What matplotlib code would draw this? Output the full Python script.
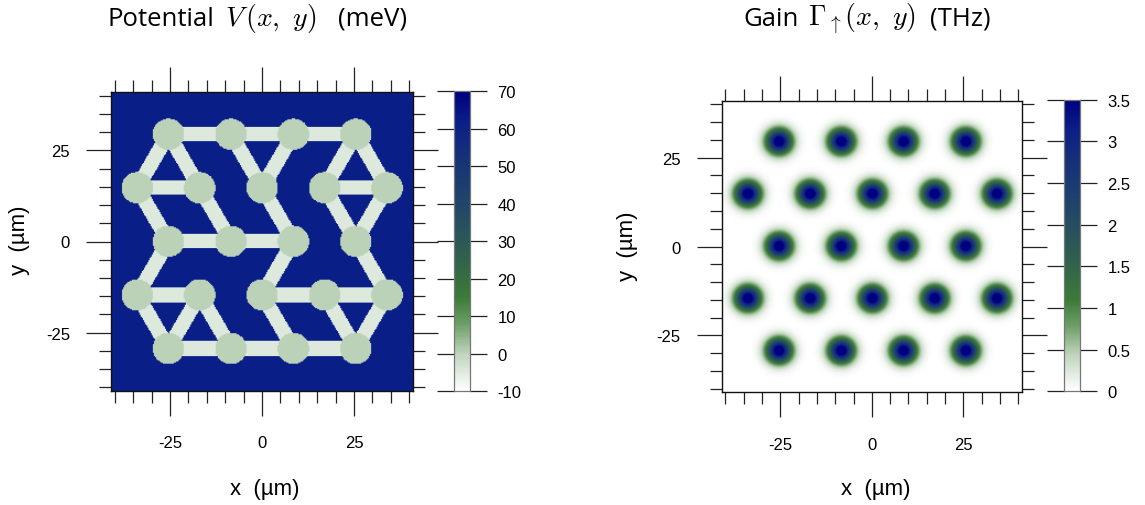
import numpy as np
import matplotlib
matplotlib.use("Agg")
import matplotlib.pyplot as plt
from matplotlib.colors import LinearSegmentedColormap
from matplotlib.ticker import FixedLocator

# ---------------- data ----------------
# triangular lattice sites (um)
site_x = [-25.5, -8.5, 8.5, 25.5,
          -34.0, -17.0, 0.0, 17.0, 34.0,
          -25.5, -8.5, 8.5, 25.5,
          -34.0, -17.0, 0.0, 17.0, 34.0,
          -25.5, -8.5, 8.5, 25.5]
site_y = [29.44, 29.44, 29.44, 29.44,
          14.72, 14.72, 14.72, 14.72, 14.72,
          0.0, 0.0, 0.0, 0.0,
          -14.72, -14.72, -14.72, -14.72, -14.72,
          -29.44, -29.44, -29.44, -29.44]
# channels connecting sites (pairs of site indices)
bonds = [(0, 1), (1, 2), (2, 3),
         (0, 4), (0, 5), (4, 5),
         (1, 6), (2, 6),
         (3, 7), (3, 8), (7, 8),
         (4, 9), (5, 10), (6, 11), (7, 12), (8, 12),
         (9, 10), (10, 11),
         (9, 13), (11, 15), (12, 17),
         (13, 14), (15, 16), (16, 17),
         (13, 18), (14, 18), (14, 19), (15, 20), (16, 21), (17, 21),
         (18, 19), (19, 20), (20, 21)]
pillar_radius = 4.3      # um
channel_halfwidth = 2.0  # um
V_background = 62.0      # meV
V_pillar = 0.0           # meV
V_channel = -5.0         # meV
gain_peak = 4.0          # THz
gain_sigma = 2.3         # um

v_ticks = [-10, 0, 10, 20, 30, 40, 50, 60, 70]
g_ticks = [0, 0.5, 1, 1.5, 2, 2.5, 3, 3.5]
g_ticklabels = ["0", "0.5", "1", "1.5", "2", "2.5", "3", "3.5"]
major_ticks = [-25, 0, 25]
minor_ticks = [-40, -35, -30, -20, -15, -10, -5, 5, 10, 15, 20, 30, 35, 40]
lim = 41.0

# ---------------- fields ----------------
sx = np.array(site_x); sy = np.array(site_y)
g = np.arange(-lim, lim + 1e-9, 0.3)
X, Y = np.meshgrid(g, g)
V = np.full(X.shape, V_background)
for i, j in bonds:
    ax_, ay_ = sx[i], sy[i]
    bx_, by_ = sx[j], sy[j]
    dx, dy = bx_ - ax_, by_ - ay_
    t = np.clip(((X - ax_) * dx + (Y - ay_) * dy) / (dx * dx + dy * dy), 0, 1)
    d = np.hypot(X - (ax_ + t * dx), Y - (ay_ + t * dy))
    V[d < channel_halfwidth] = V_channel
for x0, y0 in zip(sx, sy):
    V[np.hypot(X - x0, Y - y0) < pillar_radius] = V_pillar

g2 = np.arange(-lim, lim + 1e-9, 0.2)
X2, Y2 = np.meshgrid(g2, g2)
G = np.zeros(X2.shape)
for x0, y0 in zip(sx, sy):
    G += gain_peak * np.exp(-((X2 - x0) ** 2 + (Y2 - y0) ** 2) / (2 * gain_sigma ** 2))

cmap = LinearSegmentedColormap.from_list("gn", [
    (0.00, "#ffffff"),
    (0.12, "#c0d5be"),
    (0.22, "#6f9f69"),
    (0.31, "#3d7b39"),
    (0.45, "#30604e"),
    (0.62, "#22466a"),
    (0.80, "#152f7c"),
    (0.90, "#0b1f88"),
    (1.00, "#00007f"),
])

# ---------------- figure ----------------
plt.rcParams["mathtext.fontset"] = "cm"
W, H = 1145, 506
fig = plt.figure(figsize=(W / 100, H / 100), dpi=100)
tick_font = dict(family="Liberation Sans", size=12)
tick_color = "#222222"


def fax(l, t, r, b):
    return fig.add_axes([l / W, 1 - b / H, (r - l) / W, (b - t) / H])


def style_main(ax):
    ax.set_xlim(-lim, lim)
    ax.set_ylim(-lim, lim)
    for a in (ax.xaxis, ax.yaxis):
        a.set_major_locator(FixedLocator(major_ticks))
        a.set_minor_locator(FixedLocator(minor_ticks))
    ax.set_xticklabels(["-25", "0", "25"], fontdict=tick_font)
    ax.set_yticklabels(["-25", "0", "25"], fontdict=tick_font)
    ax.tick_params(which="both", direction="out", top=True, right=True,
                   color=tick_color, width=0.9)
    ax.tick_params(which="major", length=18)
    ax.tick_params(which="minor", length=8.6)
    ax.tick_params(axis="x", which="major", pad=14)
    ax.tick_params(axis="y", which="major", pad=11.5)
    for s in ax.spines.values():
        s.set_linewidth(1.0)
        s.set_color("#111111")


def colorbar(cax, vmin, vmax, ticks, labels):
    grad = np.linspace(vmin, vmax, 300)[:, None]
    cax.imshow(grad, extent=[0, 1, vmin, vmax], origin="lower", aspect="auto",
               cmap=cmap, vmin=vmin, vmax=vmax)
    cax.set_xlim(0, 1)
    cax.set_ylim(vmin, vmax)
    cax.set_xticks([])
    cax.yaxis.set_major_locator(FixedLocator(ticks))
    cax.set_yticklabels(labels, fontdict=tick_font)
    cax.tick_params(axis="y", direction="out", left=True, right=True,
                    labelleft=False, labelright=True, length=12.2,
                    width=0.9, color=tick_color, pad=7.5)
    for s in cax.spines.values():
        s.set_color("#777777")
        s.set_linewidth(0.9)


# left panel
ax1 = fax(111, 93, 413, 392)
ax1.imshow(V, extent=[-lim, lim, -lim, lim], origin="lower", cmap=cmap,
           vmin=-10, vmax=70, interpolation="bilinear", aspect="auto")
style_main(ax1)
cax1 = fax(454, 92.3, 470, 392.3)
colorbar(cax1, -10, 70, v_ticks, [str(v) for v in v_ticks])

# right panel
ax2 = fax(721.7, 101.7, 1022, 393.3)
ax2.imshow(G, extent=[-lim, lim, -lim, lim], origin="lower", cmap=cmap,
           vmin=0, vmax=3.5, interpolation="bilinear", aspect="auto")
style_main(ax2)
cax2 = fax(1064.3, 100.7, 1080, 392.3)
colorbar(cax2, 0, 3.5, g_ticks, g_ticklabels)

# axis labels
lab_font = dict(family="Liberation Sans", size=16)
fig.text(265 / W, 1 - 490 / H, "x  (µm)", ha="center", va="center", **lab_font)
fig.text(876 / W, 1 - 490 / H, "x  (µm)", ha="center", va="center", **lab_font)
fig.text(20 / W, 1 - 240 / H, "y  (µm)", ha="center", va="center", rotation=90, **lab_font)
fig.text(628 / W, 1 - 246 / H, "y  (µm)", ha="center", va="center", rotation=90, **lab_font)

# titles (text pieces + math pieces)
title_font = dict(family="Open Sans", size=18.5)
math_size = 20
base_y = 1 - 26 / H
fig.text(107 / W, base_y, "Potential", ha="left", va="baseline", **title_font)
fig.text(225 / W, base_y, r"$V\,(x,\ y)$", ha="left", va="baseline", size=math_size)
fig.text(338 / W, base_y, "(meV)", ha="left", va="baseline", **title_font)
fig.text(743 / W, base_y, "Gain", ha="left", va="baseline", **title_font)
fig.text(808 / W, base_y, r"$\Gamma_{\uparrow}(x,\ y)$", ha="left", va="baseline", size=math_size)
fig.text(930 / W, base_y, "(THz)", ha="left", va="baseline", **title_font)

fig.savefig("out.png", dpi=100)
